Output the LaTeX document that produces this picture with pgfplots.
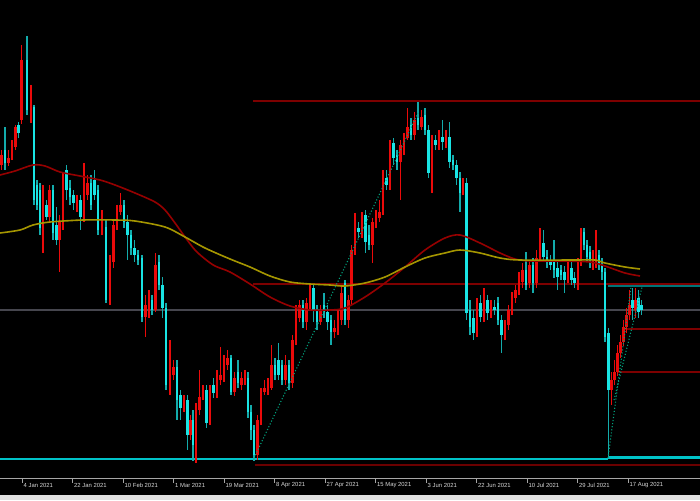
\documentclass[border=0pt]{standalone}
\usepackage{pgfplots}
\usepackage{pgfplotstable}
\pgfplotsset{compat=1.18}
\usepackage{fontspec}
\setmainfont{Liberation Sans}
\definecolor{upred}{RGB}{235,10,10}
\definecolor{dncyan}{RGB}{25,228,228}
\definecolor{lvlred}{RGB}{125,0,0}
\definecolor{mared}{RGB}{150,0,0}
\definecolor{mayel}{RGB}{165,150,0}
\definecolor{lvlcyan}{RGB}{0,195,200}
\definecolor{dotgreen}{RGB}{0,160,125}
\definecolor{midgray}{RGB}{70,70,78}
\definecolor{labgray}{RGB}{215,215,215}

% bullish (red) candles: x open high low close  (screen pixel y)
\pgfplotstableread{
x o h l c
1.5 165 150 170 155
8.5 163 150 166 158
12 158 140 160 145
15.5 147 125 150 127
21.5 120 45 124 60
31 120 85 123 107
43 228 185 253 205
49.5 217 185 222 190
59.5 240 215 272 222
63 222 173 230 178
77 205 195 212 200
84 217 163 222 190
87.5 195 175 200 183
102 230 210 235 215
110 300 255 305 262
113.5 262 220 268 225
117 225 205 230 212
120.5 212 193 215 205
145.5 317 295 337 305
149 310 290 318 300
155.5 310 253 312 265
170 385 340 395 372
173.5 375 360 380 367
184 408 395 412 400
190.5 435 415 440 420
196 445 403 463 410
199.5 410 370 415 397
203 397 385 400 392
210 420 385 425 390
217 393 370 398 377
220.5 380 347 385 375
224 377 355 382 363
227.5 365 350 370 358
234.5 392 372 396 378
241.5 385 372 390 378
245 380 370 385 375
257.5 455 415 460 420
261 420 388 425 392
264.5 392 380 395 388
268 390 378 395 385
271.5 388 345 390 365
285.5 380 355 385 365
292.5 383 335 388 340
296 340 305 345 318
299.5 318 300 322 305
306.5 322 298 330 303
310 305 285 310 288
320.5 322 305 325 310
334.5 332 320 338 328
338 330 310 335 318
341.5 320 285 325 293
348.5 320 295 328 300
351.5 300 245 305 250
355 250 213 255 230
362 233 212 238 218
372.5 245 218 263 222
376 222 210 228 218
379.5 218 200 222 212
383 212 170 215 178
390 185 140 190 150
400.5 162 140 200 145
404 150 133 155 137
407.5 138 108 140 127
414.5 135 112 140 120
421.5 127 110 130 117
432 173 135 193 140
439 145 130 150 138
446 142 130 148 137
463 190 178 195 183
477 333 298 337 303
484 317 288 322 300
491 313 300 318 307
505 335 320 340 325
508.5 325 305 330 310
512 310 292 315 298
515.5 298 285 303 290
519 290 272 295 280
522.5 282 263 288 270
529.5 283 260 288 265
536.5 283 250 288 258
540 258 228 262 243
568 280 262 283 270
578 283 258 290 262
581 262 228 266 232
593 265 250 270 257
596 262 230 268 255
611.5 390 372 405 380
614.5 380 360 385 372
617.5 372 345 376 353
620.5 353 335 358 342
623.5 342 320 346 327
626.5 327 308 333 315
629.5 315 290 320 305
635.5 310 288 318 300
}\upbars

% bearish (cyan) candles: x open high low close
\pgfplotstableread{
x o h l c
5 150 127 170 163
18.5 125 122 138 133
27 60 36 115 110
34 107 105 205 200
37 185 180 210 205
40 190 183 235 228
46.5 205 200 220 217
53 190 185 240 233
56.5 225 207 245 240
66.5 170 165 200 190
70 188 180 205 197
73.5 195 190 210 203
80.5 200 195 230 217
91 183 175 210 205
94.5 180 170 200 195
98 190 185 235 230
106 227 220 303 300
124 205 200 228 222
127.5 222 215 260 235
131 235 230 255 248
134.5 248 240 262 255
138 255 250 265 260
142 258 255 322 317
152 300 295 315 310
159 262 255 290 285
162.5 285 277 318 308
166 308 303 390 385
177 367 360 420 400
180.5 395 390 420 408
187.5 400 395 450 435
193 420 410 461 445
206.5 390 385 428 423
213.5 385 378 398 393
231 358 355 395 392
238 372 360 388 383
248 378 372 418 412
251 412 405 440 430
254 430 425 461 455
275 365 358 380 375
278.5 360 343 380 375
282 365 360 385 380
289 365 360 390 383
303 305 300 328 322
313.5 288 285 322 310
317 310 305 330 322
324 305 293 318 312
327.5 312 305 330 322
331 320 315 345 332
345 283 280 325 320
358.5 228 222 238 232
365.5 215 210 253 242
369 235 225 250 245
386.5 178 170 190 185
393.5 143 138 165 158
397 155 150 170 162
411 125 118 140 135
418 118 102 130 125
425 115 108 135 130
428.5 130 125 178 173
435.5 140 135 150 145
442.5 137 120 150 142
449.5 137 122 168 162
453 160 155 170 165
456.5 165 160 185 178
460 178 172 212 193
466.5 183 178 320 313
470 310 300 335 327
473.5 318 310 340 333
480.5 303 295 322 317
487.5 300 295 320 313
494.5 307 300 315 310
498 303 297 325 320
501.5 320 315 353 335
526 270 252 290 285
533 265 258 293 283
543.5 243 230 262 257
547 257 250 268 262
550.5 260 255 270 265
554 262 240 278 270
557.5 268 262 290 277
561 270 265 280 275
564.5 272 266 293 280
571.5 268 262 285 280
574.5 278 272 288 283
584 232 228 250 245
587 245 240 262 257
590 252 246 268 260
599 255 250 270 265
602 265 258 280 272
605 272 268 342 337
608.5 333 328 458 390
632.5 300 288 320 308
638.5 298 290 318 312
641.5 305 300 315 310
}\dnbars

\pgfplotstableread[col sep=comma]{
tx,lx,ly,label
22,23.5,485.5,4 Jan 2021
72.5,74,485.5,22 Jan 2021
123,124.5,485.5,10 Feb 2021
173.5,175,485.5,1 Mar 2021
224,225.5,485.5,19 Mar 2021
274.5,276,485.5,8 Apr 2021
325,326.5,485.5,27 Apr 2021
375.5,377,485.5,15 May 2021
426,427.5,485.5,3 Jun 2021
476.5,478,485.5,22 Jun 2021
527,528.5,485.5,10 Jul 2021
577.5,579,485.5,29 Jul 2021
628,629.5,485.5,17 Aug 2021
}\dates

\begin{document}
\begin{tikzpicture}
\begin{axis}[
  width=700pt, height=500pt, scale only axis,
  xmin=0, xmax=700, ymin=0, ymax=500, y dir=reverse,
  axis line style={draw=none}, ticks=none,
  axis background/.style={fill=black},
  clip=true,
]
% bottom strip
\addplot[fill=black!12, draw=none, forget plot] coordinates {(0,495) (700,495) (700,500) (0,500)};
\addplot[gray!70, line width=0.8pt, forget plot] coordinates {(0,478) (700,478)};
\addplot[draw=none, mark=none, forget plot, error bars/.cd, y dir=plus, y explicit, error mark=none,
  error bar style={draw=gray!70, line width=0.6pt}]
  table[x=tx, y expr=478, y error plus expr=4.5] {\dates};
\addplot[draw=none, mark=none, forget plot, nodes near coords, point meta=explicit symbolic,
  nodes near coords align=horizontal,
  every node near coord/.append style={anchor=west, inner sep=0pt, text=labgray,
    font=\fontsize{5.9}{6.5}\selectfont}]
  table[x=lx, y=ly, meta=label] {\dates};

% horizontal levels
\addplot[midgray, line width=1.2pt] coordinates {(0,310) (700,310)};
\addplot[lvlred, line width=1.3pt] coordinates {(253,101) (700,101)};
\addplot[lvlred, line width=1.3pt] coordinates {(253,284) (700,284)};
\addplot[lvlred, line width=1.3pt] coordinates {(625,329) (700,329)};
\addplot[lvlred, line width=1.3pt] coordinates {(618,372) (700,372)};
\addplot[lvlred!85!black, line width=1.8pt] coordinates {(255,465) (700,465)};
\addplot[lvlcyan!60!black, line width=1.1pt] coordinates {(608,286) (700,286)};
\addplot[lvlcyan, line width=2.4pt] coordinates {(0,459) (608,459)};
\addplot[lvlcyan, line width=2.4pt] coordinates {(608,457.5) (700,457.5)};
\addplot[lvlcyan, line width=1pt] coordinates {(608,457.5) (608,459)};

% candles: wicks and bodies
\addplot[draw=none, mark=none, error bars/.cd, y dir=plus, y explicit, error mark=none,
  error bar style={draw=upred, line width=1.1pt}]
  table[x=x, y=h, y error plus expr=\thisrow{l}-\thisrow{h}] {\upbars};
\addplot[draw=none, mark=none, error bars/.cd, y dir=plus, y explicit, error mark=none,
  error bar style={draw=upred, line width=2.8pt}]
  table[x=x, y=c, y error plus expr=\thisrow{o}-\thisrow{c}] {\upbars};
\addplot[draw=none, mark=none, error bars/.cd, y dir=plus, y explicit, error mark=none,
  error bar style={draw=dncyan!75!black, line width=1.1pt}]
  table[x=x, y=h, y error plus expr=\thisrow{l}-\thisrow{h}] {\dnbars};
\addplot[draw=none, mark=none, error bars/.cd, y dir=plus, y explicit, error mark=none,
  error bar style={draw=dncyan, line width=2.8pt}]
  table[x=x, y=o, y error plus expr=\thisrow{c}-\thisrow{o}] {\dnbars};

% moving averages
\addplot[mared, line width=1.6pt, smooth] coordinates {
(0,175) (15,171) (33,165) (45,166) (60,172) (80,176) (100,180) (115,185) (135,193)
(155,202) (165,210) (175,223) (185,237) (195,250) (205,259) (215,266) (230,272)
(250,284) (270,297) (290,306) (310,310) (330,310) (345,308) (365,297) (385,283)
(405,267) (425,250) (445,238) (460,235) (480,243) (500,253) (515,259) (530,261)
(560,261) (590,262) (605,266) (625,273) (640,276)};
\addplot[mayel, line width=1.6pt, smooth] coordinates {
(0,233) (20,230) (33,225) (50,222) (83,220) (115,220) (135,221) (165,227) (185,237)
(205,248) (230,259) (250,267) (270,276) (290,282) (310,284) (330,285) (345,286)
(365,283) (385,277) (405,267) (425,258) (445,253) (460,250) (480,253) (500,258)
(520,260) (575,260) (595,260) (605,263) (625,267) (640,269)};

% dotted trend lines
\addplot[dotgreen, line width=1.1pt, dotted] coordinates {(254,458) (418,113)};
\addplot[dotgreen, line width=1.1pt, dotted] coordinates {(608,458) (631,287)};
\addplot[dotgreen, line width=1.1pt, dotted] coordinates {(614,400) (642,287)};
\end{axis}
\end{tikzpicture}
\end{document}
